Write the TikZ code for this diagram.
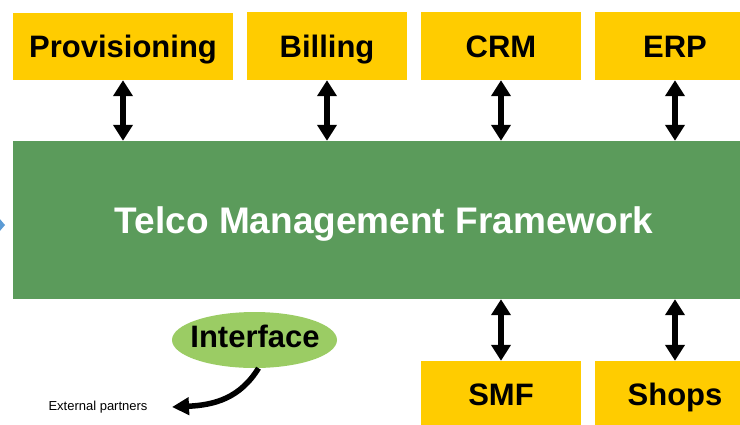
\documentclass[tikz,border=0pt]{standalone}
\usepackage{fontspec}
\setmainfont{Liberation Sans}
\usetikzlibrary{arrows.meta,shapes.geometric}
\definecolor{sysyellow}{RGB}{255,204,0}
\definecolor{tmfgreen}{RGB}{91,155,91}
\definecolor{ifgreen}{RGB}{155,204,100}
\definecolor{markblue}{RGB}{91,155,213}
\tikzset{
  sysbox/.style={fill=sysyellow, minimum width=160pt, minimum height=68pt,
    inner sep=0pt, font=\fontsize{31}{31}\selectfont\bfseries,
    text height=22.3pt, text depth=0pt},
  dbl/.style={line width=5.5pt, {Triangle[width=19pt,length=16pt]}-{Triangle[width=19pt,length=16pt]}},
  oneway/.style={line width=5.5pt, -{Triangle[width=17pt,length=17pt]}}
}
\begin{document}
\begin{tikzpicture}[x=1pt,y=-1pt]
\useasboundingbox (0,0) rectangle (740,424);

% systems above the framework
\node[sysbox, minimum width=220pt, minimum height=67pt] (prov) at (123,46.5) {Provisioning};
\node[sysbox] (bill) at (327,46) {Billing};
\node[sysbox] (crm)  at (501,46) {CRM};
\node[sysbox] (erp)  at (675,46) {ERP};

% the framework
\node[fill=tmfgreen, minimum width=742pt, minimum height=158pt, inner sep=0pt,
      text=white, font=\fontsize{37}{37}\selectfont\bfseries,
      text height=26.6pt, text depth=0pt] (tmf) at (384,220) {Telco Management Framework};

% systems below the framework
\node[sysbox, minimum height=66pt] (smf)   at (501,394) {SMF};
\node[sysbox, minimum height=66pt] (shops) at (675,394) {Shops};

% interface to partners
\node[ellipse, fill=ifgreen, minimum width=165pt, minimum height=56pt, inner sep=0pt] (intf) at (254.5,340) {};
\node[font=\fontsize{31}{31}\selectfont\bfseries, inner sep=0pt,
      text height=22.3pt, text depth=0pt] (intftext) at (255,336) {Interface};
\node[font=\fontsize{13}{13}\selectfont, inner sep=0pt] (ext) at (98,407) {External partners};
\coordinate (extend) at (172,407);

% two-way links
\draw[dbl] (prov.south) -- (prov.south |- tmf.north);
\draw[dbl] (bill.south) -- (bill.south |- tmf.north);
\draw[dbl] (crm.south)  -- (crm.south |- tmf.north);
\draw[dbl] (erp.south)  -- (erp.south |- tmf.north);
\draw[dbl] (tmf.south -| smf.north) -- (smf.north);
\draw[dbl] (tmf.south -| shops.north) -- (shops.north);

% link out to the partners
\draw[oneway] (intf.south) ++(4,0) .. controls (240,398) and (215,405) .. (extend);

% small marker at the left edge
\fill[markblue] (-1,218) -- (5,225) -- (-1,232) -- cycle;
\end{tikzpicture}
\end{document}
